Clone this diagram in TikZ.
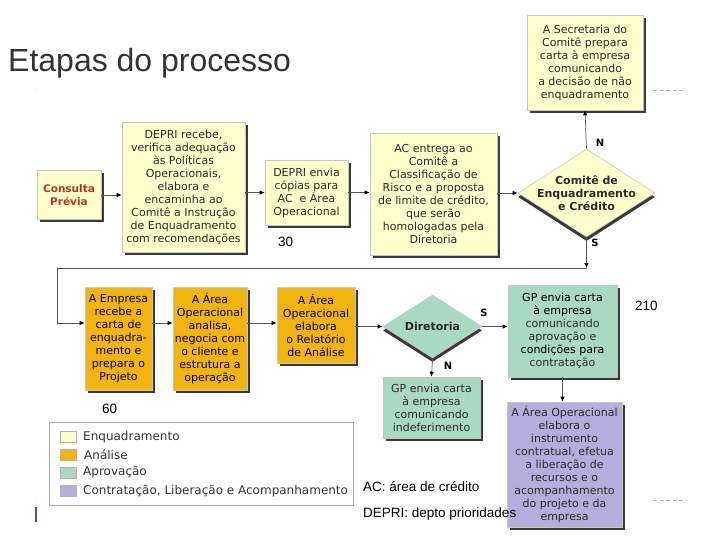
\documentclass[tikz,border=0pt]{standalone}
\usepackage{fontspec}
\setmainfont{Liberation Sans}
\newfontfamily\vf{DejaVu Sans}
\usetikzlibrary{shapes.geometric,arrows.meta,shadows}
\definecolor{cyel}{HTML}{FFFFCC}
\definecolor{corg}{HTML}{F2B50F}
\definecolor{cgrn}{HTML}{A9D9C3}
\definecolor{cpur}{HTML}{B5AEDC}
\definecolor{cred}{HTML}{B8342A}
\definecolor{cshd}{HTML}{3A3A3A}
\definecolor{ctxt}{HTML}{2A2A2A}
\begin{document}
\begin{tikzpicture}[x=1pt,y=-1pt,
  box/.style={rectangle, draw=gray!45, line width=0.6pt, inner sep=0pt, align=center,
    font=\vf\fontsize{11}{13}\selectfont, text=ctxt,
    drop shadow={shadow xshift=3pt, shadow yshift=-3pt, fill=cshd, opacity=1}},
  dia/.style={diamond, draw=gray!45, line width=0.6pt, inner sep=0pt,
    drop shadow={shadow xshift=0pt, shadow yshift=-4pt, fill=cshd, opacity=1}},
  btxt/.style={align=center, font=\vf\bfseries\fontsize{11}{13}\selectfont, text=ctxt, inner sep=0pt},
  lab/.style={font=\vf\bfseries\fontsize{10}{12}\selectfont, text=black, inner sep=0pt},
  note/.style={font=\fontsize{13.5}{16}\selectfont, text=black, inner sep=0pt, anchor=base west},
  conn/.style={draw=gray!65!black, line width=0.7pt, -{Latex[length=5pt,width=4.5pt,black]}},
  sw/.style={rectangle, draw=gray!60, line width=0.6pt, minimum width=16pt, minimum height=11pt, inner sep=0pt},
  legtxt/.style={font=\vf\fontsize{12}{13}\selectfont, text=black!80, anchor=west, inner sep=0pt}
]
\useasboundingbox (0,0) rectangle (720,540);
\fill[white] (0,0) rectangle (720,540);

% title
\node[font=\fontsize{32}{36}\selectfont, text=black!80, anchor=base west, inner sep=0pt] (title) at (8,72) {Etapas do processo};

% row 1
\node[box, fill=cyel, minimum width=64pt, minimum height=49pt, text=cred,
  font=\vf\bfseries\fontsize{10.5}{13}\selectfont] (consulta) at (69,195) {Consulta\\Prévia};
\node[box, fill=cyel, minimum width=123pt, minimum height=130pt] (recebe) at (183.5,187)
  {DEPRI recebe,\\verifica adequação\\às Políticas\\Operacionais,\\elabora e\\encaminha ao\\Comitê a Instrução\\de Enquadramento\\com recomendações};
\node[box, fill=cyel, minimum width=83pt, minimum height=65pt] (envia) at (306.5,192.5)
  {DEPRI envia\\cópias para\\AC \ e Área\\Operacional};
\node[box, fill=cyel, minimum width=127pt, minimum height=122pt] (ac) at (433.5,194)
  {AC entrega ao\\Comitê a\\Classificação de\\Risco e a proposta\\de limite de crédito,\\que serão\\homologadas pela\\Diretoria};
\node[dia, fill=cyel, minimum width=137pt, minimum height=88pt] (comite) at (586.5,193) {};
\node[btxt] (comitetxt) at (comite) {Comitê de\\Enquadramento\\e Crédito};
\node[box, fill=cyel, minimum width=116pt, minimum height=95pt] (secr) at (585,62.5)
  {A Secretaria do\\Comitê prepara\\carta à empresa\\comunicando\\a decisão de não\\enquadramento};

% row 2
\node[box, fill=corg, minimum width=67pt, minimum height=103pt, text=black] (empresa) at (118.5,338.5)
  {A Empresa\\recebe a\\carta de\\enquadra-\\mento e\\prepara o\\Projeto};
\node[box, fill=corg, minimum width=74pt, minimum height=103pt, text=black] (analisa) at (210,338.5)
  {A Área\\Operacional\\analisa,\\negocia com\\o cliente e\\estrutura a\\operação};
\node[box, fill=corg, minimum width=78pt, minimum height=76pt, text=black] (relat) at (316,325)
  {A Área\\Operacional\\elabora\\o Relatório\\de Análise};
\node[dia, fill=cgrn, minimum width=99pt, minimum height=63pt] (dir) at (432.5,326.5) {};
\node[btxt] (dirtxt) at (dir) {Diretoria};
\node[box, fill=cgrn, minimum width=109pt, minimum height=92pt] (aprov) at (562.5,331)
  {\textcolor{black}{GP envia carta}\\\textcolor{black}{à empresa}\\comunicando\\aprovação e\\\textcolor{black}{condições para}\\contratação};
\node[box, fill=cgrn, minimum width=97pt, minimum height=61pt] (indef) at (431.5,407.5)
  {GP envia carta\\à empresa\\comunicando\\indeferimento};
\node[box, fill=cpur, minimum width=115pt, minimum height=125pt] (contr) at (564.5,464.5)
  {A Área Operacional\\elabora o\\instrumento\\contratual, efetua\\a liberação de\\recursos e o\\acompanhamento\\do projeto e da\\empresa};

% connectors row 1
\draw[conn] (consulta.east) -- (consulta.east -| recebe.west);
\draw[conn] (envia.west -| recebe.east) -- (envia.west);
\draw[conn] (envia.east) -- (envia.east -| ac.west);
\draw[conn] (ac.east |- comite.west) -- (comite.west);
\draw[conn] (comite.north) -- (secr.south);
\node[lab] (ln1) at (600,143) {N};
\node[lab] (ls1) at (595,243) {S};

% loop to row 2
\coordinate (yA) at (0,268);
\coordinate (yB) at (0,323);
\coordinate (lp1) at (comite.south |- yA);
\coordinate (lp2) at (57,268);
\coordinate (lp3) at (57,323);
\draw[conn] (comite.south) -- (lp1);
\draw[conn] (lp1) -- (lp2) -- (lp3) -- (empresa.west |- yB);

% connectors row 2
\draw[conn] (empresa.east |- yB) -- (analisa.west |- yB);
\draw[conn] (analisa.east |- yB) -- (relat.west |- yB);
\draw[conn] (relat.east |- dir.west) -- (dir.west);
\draw[conn] (dir.east) -- (dir.east -| aprov.west);
\draw[conn] (dir.south) -- (indef.north);
\draw[conn] (aprov.south) -- (aprov.south |- contr.north);
\node[lab] (ls2) at (484,313) {S};
\node[lab] (ln2) at (448,366) {N};

% numbers
\node[note] (n30) at (278,247) {30};
\node[note] (n60) at (102,413) {60};
\node[note] (n210) at (635,310) {210};
\node[note] (acnote) at (363,491) {AC: área de crédito};
\node[note] (deprinote) at (363,517) {DEPRI: depto prioridades};

% dashes
\draw[gray!60, line width=0.6pt, dash pattern=on 4pt off 2.5pt] (653,90) -- (686,90);
\draw[gray!60, line width=0.6pt, dash pattern=on 4pt off 2.5pt] (653,500) -- (686,500);

% legend
\node[rectangle, draw=gray!65, fill=white, line width=0.7pt, minimum width=304pt, minimum height=83pt, inner sep=0pt] (legend) at (201,463.5) {};
\node[sw, fill=cyel] (sw1) at (68,437) {};
\node[sw, fill=corg] (sw2) at (68,455) {};
\node[sw, fill=cgrn] (sw3) at (68,472.5) {};
\node[sw, fill=cpur] (sw4) at (68,491) {};
\node[legtxt] (lt1) at (83,437) {Enquadramento};
\node[legtxt] (lt2) at (84,455) {Análise};
\node[legtxt] (lt3) at (83,472.5) {Aprovação};
\node[legtxt] (lt4) at (83,491) {Contratação, Liberação e Acompanhamento};

% left marks
\draw[gray!60!blue, line width=1.2pt] (36,507) -- (36,522);
\fill[gray!50] (35,90) circle (0.5pt);
\fill[gray!50] (36,500) circle (0.5pt);
\end{tikzpicture}
\end{document}
